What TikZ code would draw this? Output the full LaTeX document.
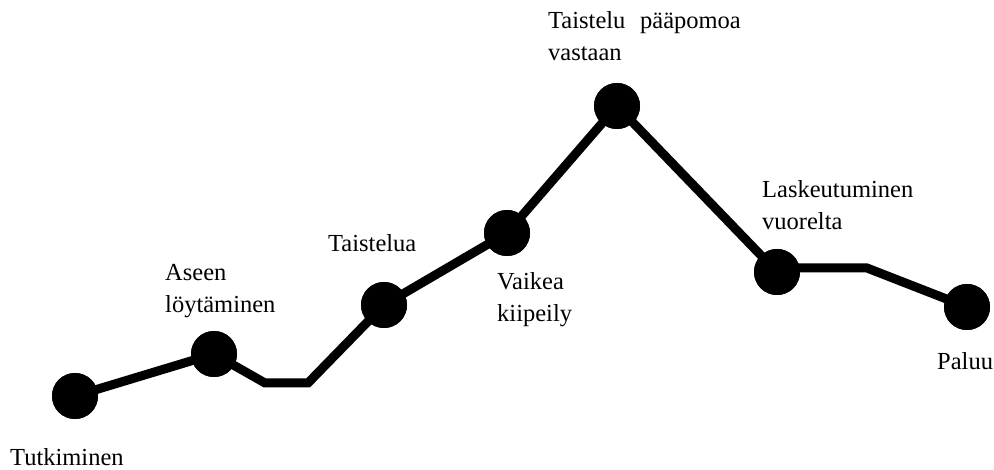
\documentclass[tikz,border=0pt]{standalone}
\usepackage{fontspec}
\setmainfont{Liberation Serif}
\begin{document}
\begin{tikzpicture}[x=1pt,y=-1pt,
  dot/.style={circle,fill=black,minimum size=46pt,inner sep=0pt},
  pathline/.style={line width=9pt,line join=miter,black},
  lbl/.style={anchor=base west,inner sep=0pt,align=left,font=\fontsize{24.5}{32}\selectfont}]
\useasboundingbox (0,0) rectangle (994,470);
\node[dot] (n1) at (75,396) {};
\node[dot] (n2) at (214,354) {};
\coordinate (b1) at (265,383);
\coordinate (b2) at (308,383);
\node[dot] (n3) at (384,305) {};
\node[dot] (n4) at (507,233) {};
\node[dot] (n5) at (617,106) {};
\node[dot] (n6) at (777,272) {};
\coordinate (b3) at (867,268);
\node[dot] (n7) at (967,307) {};
\draw[pathline] (n1.center) -- (n2.center) -- (b1) -- (b2) -- (n3.center) -- (n4.center) -- (n5.center) -- (n6.center) -- (n6.center |- b3) -- (b3) -- (n7.center);
\foreach \n in {n1,n2,n3,n4,n5,n6,n7} \fill (\n) circle (23pt);
% multi-line labels: anchor is the baseline of the last line
\node[lbl] (t1) at (10,465) {Tutkiminen};
\node[lbl] (t2) at (165,313) {Aseen\\löytäminen};
\node[lbl] (t3) at (328,252) {Taistelua};
\node[lbl] (t4) at (497,322) {Vaikea\\kiipeily};
\node[lbl] (t5) at (548,61) {Taistelu\hspace{0.6em}pääpomoa\\vastaan};
\node[lbl] (t6) at (762,230) {Laskeutuminen\\vuorelta};
\node[lbl] (t7) at (937,370) {Paluu};
\end{tikzpicture}
\end{document}
